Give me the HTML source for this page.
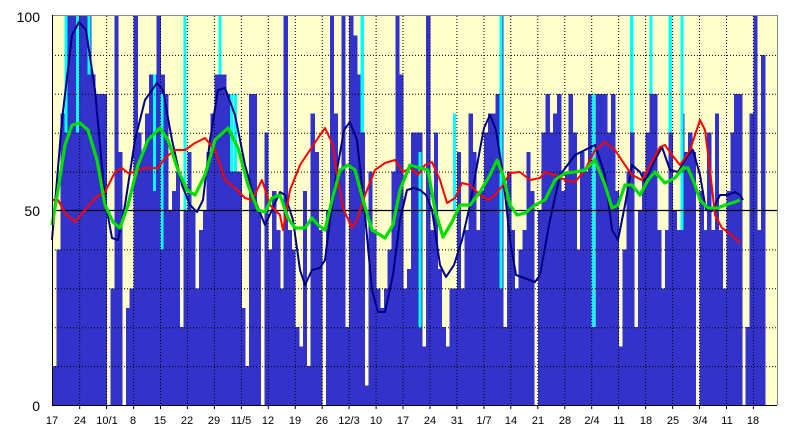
<!DOCTYPE html>
<html><head><meta charset="utf-8"><style>
body{margin:0;background:#fff;width:800px;height:440px;overflow:hidden}
svg{display:block}
text{font-family:"Liberation Sans",sans-serif;fill:#000}
#bars rect{shape-rendering:crispEdges}
</style></head><body>
<svg id="s" width="800" height="440" xmlns="http://www.w3.org/2000/svg">
<rect x="52" y="16" width="725" height="389" fill="#FFFFCC"/>
<g id="bars"></g>
<g id="grid"></g>
<line x1="52" y1="210.5" x2="777" y2="210.5" stroke="#000" stroke-width="1.3"/>
<g id="lines"></g>
<line x1="52" y1="15.5" x2="777" y2="15.5" stroke="#888"/>
<line x1="777.5" y1="15" x2="777.5" y2="405" stroke="#888"/>
<line x1="52" y1="405.5" x2="777" y2="405.5" stroke="#000"/>
<line x1="52.5" y1="15" x2="52.5" y2="405" stroke="#000"/>
<g font-size="14" text-anchor="end">
<text x="40" y="22">100</text><text x="40" y="216">50</text><text x="40" y="411">0</text>
</g>
<g id="xl" font-size="11" text-anchor="middle">
<text x="52" y="424">17</text><text x="80" y="424">24</text><text x="107" y="424">10/1</text><text x="133" y="424">8</text><text x="160" y="424">15</text><text x="187" y="424">22</text><text x="214" y="424">29</text><text x="241" y="424">11/5</text><text x="268" y="424">12</text><text x="295" y="424">19</text><text x="322" y="424">26</text><text x="349" y="424">12/3</text><text x="376" y="424">10</text><text x="403" y="424">17</text><text x="430" y="424">24</text><text x="457" y="424">31</text><text x="484" y="424">1/7</text><text x="511" y="424">14</text><text x="538" y="424">21</text><text x="565" y="424">28</text><text x="592" y="424">2/4</text><text x="619" y="424">11</text><text x="646" y="424">18</text><text x="673" y="424">25</text><text x="700" y="424">3/4</text><text x="727" y="424">11</text><text x="753" y="424">18</text>
</g>
</svg>
<script>
function Y(v){return 405-v*3.89;}
var vals=[10,40,75,100,100,100,100,100,100,100,
85,80,80,80,0,30,100,65,0,25,
30,100,70,65,75,85,85,100,85,80,
50,55,60,20,50,65,50,30,45,50,
65,75,85,85,85,80,60,60,60,25,
10,80,80,50,0,70,40,55,45,30,
100,45,40,20,15,55,10,75,65,45,
0,50,100,75,60,100,20,100,95,85,
70,5,60,45,30,25,30,40,60,100,
85,30,35,70,70,70,15,100,45,70,
35,20,15,30,30,65,30,45,75,65,
45,55,70,75,75,80,100,20,60,45,
30,40,45,65,55,0,50,70,80,70,
75,80,55,60,80,70,40,65,60,80,
20,80,80,80,70,80,55,15,40,60,
70,20,50,60,70,80,80,45,30,45,
70,50,45,75,65,70,65,0,55,45,
70,45,75,45,30,55,70,80,80,0,
20,75,100,45,90,0,0,0];
var cy=[[3,70,100],[6,70,100],[9,85,100],[26,55,85],[28,40,80],[34,50,100],[43,85,100],[46,60,80],[47,60,80],[80,70,100],[95,20,65],[104,50,75],[116,30,100],[140,20,80],[150,70,100],[155,80,100],[160,70,100],[163,45,100]];
var g=document.getElementById("bars"),h="";
var d=3.85,x0=52.7;
for(var i=0;i<vals.length;i++){var x=x0+d*i;if(x>777)break;var w=Math.min(d+0.5,777-x);
if(vals[i]>0)h+='<rect x="'+x.toFixed(1)+'" y="'+Y(vals[i]).toFixed(1)+'" width="'+w.toFixed(1)+'" height="'+(vals[i]*3.89).toFixed(1)+'" fill="#3333CC"/>';}
cy.forEach(function(c){var x=x0+d*c[0];h+='<rect x="'+x.toFixed(1)+'" y="'+Y(c[2]).toFixed(1)+'" width="'+(d*0.8).toFixed(1)+'" height="'+((c[2]-c[1])*3.89).toFixed(1)+'" fill="#00FFFF"/>';});
g.innerHTML=h;
var gh="";
for(var v=10;v<100;v+=10){if(v==50)continue;gh+='<line x1="52" x2="777" y1="'+(Y(v)+0.5).toFixed(1)+'" y2="'+(Y(v)+0.5).toFixed(1)+'" stroke="#000" stroke-dasharray="1,2"/>';}
for(var k=1;k<27;k++){var x=(52.7+26.95*k).toFixed(1);gh+='<line y1="16" y2="405" x1="'+x+'" x2="'+x+'" stroke="#000" stroke-dasharray="1,2"/><line y1="405" y2="409" x1="'+x+'" x2="'+x+'" stroke="#000"/>';}
document.getElementById("grid").innerHTML=gh;
function path(p){return "M"+p.map(function(q){return q[0]+","+q[1];}).join(" L");}
var navy=[[52,240],[62,120],[72,35],[79,22],[86,30],[95,90],[105,200],[112,238],[118,240],[125,205],[135,140],[145,100],[157,83],[163,90],[172,140],[182,185],[190,205],[197,212],[203,200],[210,140],[218,90],[225,88],[235,115],[245,165],[255,200],[265,225],[272,210],[280,192],[285,195],[293,220],[300,270],[305,285],[312,270],[320,268],[325,260],[330,220],[337,170],[344,130],[350,122],[357,140],[365,215],[372,290],[378,312],[385,312],[393,275],[400,220],[407,190],[414,188],[420,190],[426,195],[432,210],[440,265],[446,277],[454,265],[462,240],[470,205],[478,160],[484,128],[490,115],[496,130],[503,175],[510,240],[516,275],[535,282],[540,275],[550,220],[560,175],[575,155],[585,150],[595,145],[605,175],[612,230],[618,240],[625,205],[632,165],[640,172],[645,182],[655,160],[662,147],[670,170],[678,172],[688,155],[693,150],[700,175],[706,210],[712,211],[720,195],[728,195],[735,192],[740,195],[743,200]];
var red=[[52,200],[58,200],[65,213],[75,222],[85,210],[95,198],[105,192],[115,172],[122,168],[128,173],[135,172],[145,168],[158,168],[165,158],[175,150],[185,150],[195,143],[205,138],[215,150],[225,180],[235,188],[245,198],[252,200],[262,180],[270,205],[280,215],[283,230],[290,190],[300,165],[310,150],[318,138],[325,128],[333,145],[337,175],[343,208],[352,228],[357,220],[365,195],[375,170],[385,163],[395,160],[403,172],[410,168],[418,175],[425,165],[432,162],[440,180],[447,203],[455,198],[462,183],[470,185],[480,195],[488,200],[495,195],[503,185],[510,173],[520,172],[530,180],[540,178],[545,172],[555,175],[565,180],[575,182],[585,170],[595,150],[605,142],[615,150],[625,165],[632,175],[642,180],[650,165],[660,147],[665,145],[672,155],[680,165],[685,158],[690,150],[695,135],[700,120],[705,130],[710,170],[715,215],[722,228],[728,232],[735,238],[740,243]];
var green=[[52,225],[58,190],[65,145],[72,125],[80,123],[88,130],[97,160],[105,205],[113,222],[120,228],[128,205],[138,165],[148,140],[160,128],[168,140],[178,170],[187,190],[195,195],[205,175],[215,140],[228,128],[238,148],[248,185],[258,210],[265,212],[272,198],[280,195],[288,218],[295,228],[305,228],[312,218],[318,225],[325,230],[332,200],[340,170],[348,165],[355,170],[363,200],[372,230],[385,238],[393,225],[400,190],[410,165],[420,168],[428,170],[435,210],[443,237],[452,222],[460,205],[470,205],[480,192],[490,175],[497,160],[503,175],[510,205],[517,215],[525,213],[535,205],[545,200],[555,180],[565,173],[575,172],[585,170],[595,160],[605,185],[612,208],[618,205],[625,185],[632,185],[640,195],[648,180],[655,172],[665,183],[675,178],[683,168],[688,168],[695,185],[700,200],[708,208],[718,208],[725,205],[735,202],[740,200]];
document.getElementById("lines").innerHTML=
'<path d="'+path(navy)+'" fill="none" stroke="#000080" stroke-width="2" stroke-linejoin="round"/>'+
'<path d="'+path(red)+'" fill="none" stroke="#FF0000" stroke-width="2" stroke-linejoin="round"/>'+
'<path d="'+path(green)+'" fill="none" stroke="#00DD00" stroke-width="3.2" stroke-linejoin="round"/>';
</script>
</body></html>
